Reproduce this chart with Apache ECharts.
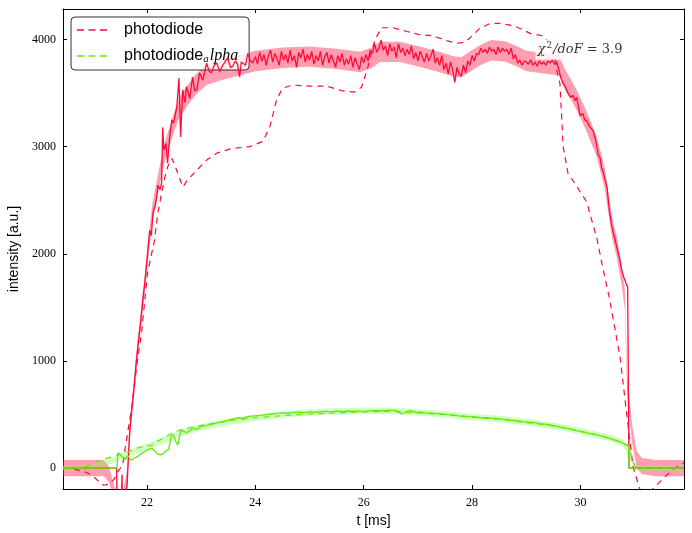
<!DOCTYPE html>
<html>
<head>
<meta charset="utf-8">
<script src="https://cdn.jsdelivr.net/npm/echarts@6/dist/echarts.min.js"></script>
<style>html,body{margin:0;padding:0;background:#fff}#c{width:692px;height:533px}</style>
</head>
<body>
<div id="c"></div>
<script>
// ---------- data ----------
const xTicks = [22, 24, 26, 28, 30];
const yTicks = [0, 1000, 2000, 3000, 4000];
const xRange = [20.45, 31.91];
const yRange = [-195, 4285];
const chiPos = [29.17, 3905];

// photodiode, measured (solid, noisy)
const redData = [
[20.45,0],[21.44,0],[21.45,-450],[21.50,-400],[21.53,-250],[21.54,-60],[21.55,-400],[21.60,-350],[21.63,-185],
[21.68,330],[21.72,560],[21.74,640],[21.77,800],[21.80,980],[21.83,1130],[21.87,1300],[21.90,1450],[21.93,1600],
[21.96,1730],[22.01,2000],[22.05,2220],[22.08,2170],[22.11,2380],[22.15,2450],[22.18,2530],[22.20,2640],[22.24,2600],
[22.27,2660],[22.29,3180],[22.31,2970],[22.35,3030],[22.38,2845],[22.42,3100],[22.46,3250],[22.49,3220],[22.55,3370],
[22.59,3640],[22.62,3090],[22.66,3530],[22.70,3410],[22.73,3560],[22.79,3450],[22.84,3650],[22.88,3520],[22.92,3530],
[22.97,3690],[23.03,3620],[23.10,3780],[23.15,3700],[23.19,3690],[23.24,3760],[23.29,3780],[23.34,3700],[23.40,3760],
[23.45,3800],[23.49,3830],[23.54,3740],[23.58,3750],[23.63,3800],[23.67,3770],[23.71,3650],[23.74,3790],[23.77,3808],
[23.82,3760],[23.86,3870],[23.91,3800],[23.95,3780],
[24.00,3840],[24.04,3770],[24.08,3880],[24.12,3800],[24.16,3860],[24.20,3760],[24.24,3850],[24.28,3900],[24.32,3790],
[24.36,3870],[24.40,3820],[24.44,3760],[24.48,3890],[24.52,3810],[24.56,3860],[24.60,3780],[24.64,3900],[24.68,3800],
[24.72,3850],[24.76,3740],[24.80,3880],[24.84,3830],[24.88,3910],[24.92,3790],[24.96,3860],[25.00,3810],[25.04,3890],
[25.08,3770],[25.12,3850],[25.16,3800],[25.20,3890],[25.24,3760],[25.28,3840],[25.32,3880],[25.36,3780],[25.40,3860],
[25.44,3800],[25.48,3740],[25.52,3850],[25.56,3790],[25.60,3870],[25.64,3760],[25.68,3820],[25.72,3770],[25.76,3850],
[25.80,3740],[25.84,3830],[25.88,3770],[25.92,3720],[25.96,3840],[26.00,3780],[26.04,3860],[26.08,3800],[26.12,3900],
[26.16,3870],[26.20,3960],[26.24,3880],[26.28,3920],[26.32,3995],[26.36,3900],[26.40,3940],[26.44,3850],[26.48,3960],
[26.52,3890],[26.56,3930],[26.60,3830],[26.64,3960],[26.68,3880],[26.72,3920],[26.76,3850],[26.80,3910],[26.84,3860],
[26.88,3940],[26.92,3820],[26.96,3880],[27.00,3800],[27.04,3890],[27.08,3840],[27.12,3790],[27.16,3870],[27.20,3800],
[27.24,3850],[27.28,3910],[27.32,3780],[27.36,3830],[27.40,3760],[27.44,3850],[27.48,3720],[27.52,3780],[27.56,3680],
[27.60,3790],[27.64,3720],[27.68,3600],[27.72,3740],[27.76,3680],[27.80,3660],[27.84,3760],[27.88,3690],[27.92,3800],
[27.96,3760],[28.00,3850],[28.04,3800],[28.08,3870],[28.12,3860],[28.16,3920],[28.20,3880],[28.24,3910],[28.28,3870],
[28.32,3930],[28.36,3890],[28.40,3910],[28.44,3860],[28.48,3930],[28.52,3880],[28.56,3920],[28.60,3890],[28.64,3910],
[28.68,3860],[28.72,3920],[28.76,3820],[28.80,3860],[28.84,3780],[28.88,3810],[28.92,3760],[28.96,3800],[29.00,3790],
[29.04,3770],[29.08,3810],[29.12,3760],[29.16,3790],[29.20,3750],[29.24,3800],[29.28,3770],[29.32,3790],[29.36,3760],
[29.40,3800],[29.44,3780],[29.48,3810],[29.52,3770],[29.56,3790],[29.60,3720],[29.64,3640],[29.67,3600],[29.72,3560],
[29.77,3500],[29.82,3460],[29.86,3480],[29.90,3430],[29.93,3460],[29.99,3290],[30.04,3310],[30.08,3250],[30.12,3240],
[30.17,3185],[30.23,3150],[30.28,3060],[30.33,2920],[30.36,2900],[30.39,2800],[30.41,2780],[30.44,2720],[30.49,2620],
[30.53,2420],[30.58,2250],[30.63,2150],[30.67,2060],[30.72,1960],[30.76,1850],[30.80,1780],[30.84,1725],[30.87,1690],
[30.89,1690],[30.895,0],[31.91,0]
];

// photodiode, reference (dashed)
const redDashed = [
[20.45,0],[20.63,-7],[20.85,-35],[20.98,-63],[21.10,-120],[21.20,-160],[21.30,-150],[21.40,-100],[21.46,-35],
[21.55,30],[21.63,290],[21.72,570],[21.83,1035],[21.90,1260],[21.96,1570],[22.01,1820],[22.10,2035],[22.14,2130],
[22.20,2380],[22.27,2565],[22.33,2715],[22.38,2810],[22.46,2890],[22.51,2830],[22.57,2750],[22.66,2625],[22.75,2690],
[22.92,2780],[23.10,2875],[23.29,2940],[23.58,2985],[23.90,3000],[24.14,3050],[24.27,3190],[24.39,3435],[24.50,3545],
[24.69,3575],[25.00,3565],[25.32,3565],[25.61,3520],[25.83,3510],[25.96,3555],[26.02,3650],[26.08,3750],[26.15,3900],
[26.21,4000],[26.33,4110],[26.54,4110],[26.80,4075],[27.03,4045],[27.27,4035],[27.53,3990],[27.72,3965],[27.86,3975],
[27.96,4015],[28.14,4105],[28.33,4150],[28.51,4150],[28.70,4135],[28.88,4105],[29.06,4060],[29.30,4035],[29.43,3960],
[29.52,3850],[29.56,3715],[29.62,3590],[29.65,3300],[29.68,3000],[29.77,2750],[29.93,2630],[30.12,2480],[30.17,2380],
[30.30,2150],[30.41,1875],[30.54,1570],[30.73,1035],[30.86,475],[30.97,10],[31.06,-140],[31.19,-350],[31.34,-190],
[31.56,-80],[31.74,0],[31.91,50]
];

// photodiode fit band: [t, centre, half-width]
const redFit = [
[20.45,0,75],[21.20,0,75],[21.30,-60,75],[21.40,-250,75],[21.50,-400,80],[21.58,-250,80],[21.63,-100,85],[21.68,330,85],
[21.77,800,85],[21.83,1130,85],[21.90,1450,85],[21.96,1730,85],[22.02,2030,90],[22.10,2380,90],[22.20,2640,90],
[22.30,2900,90],[22.40,3070,90],[22.50,3230,90],[22.60,3370,95],[22.75,3480,95],[22.90,3580,95],[23.10,3670,95],
[23.40,3720,95],[23.70,3760,95],[24.00,3800,95],[24.50,3830,95],[25.00,3840,95],[25.50,3820,95],[25.93,3790,95],
[26.15,3830,95],[26.30,3885,95],[26.66,3885,95],[27.03,3840,95],[27.40,3790,95],[27.65,3750,95],[27.80,3740,95],
[27.95,3790,95],[28.15,3855,95],[28.35,3900,95],[28.60,3890,95],[28.80,3850,95],[29.00,3800,95],[29.30,3780,95],
[29.60,3760,95],[29.72,3620,95],[29.86,3500,95],[29.93,3435,95],[30.10,3250,95],[30.30,3000,95],[30.45,2700,95],
[30.58,2250,95],[30.67,2060,95],[30.76,1800,95],[30.82,1570,95],[30.86,790,90],[30.95,330,85],[31.04,77,80],
[31.13,20,75],[31.40,0,75],[31.91,0,75]
];

// photodiode_alpha, measured (solid)
const greenData = [
[20.45,0],[21.45,0],[21.46,142],[21.50,128],[21.55,100],[21.59,78],[21.65,115],[21.70,75],[21.76,90],[21.83,110],
[21.90,135],[21.96,155],[22.03,175],[22.09,185],[22.14,160],[22.20,130],[22.27,125],[22.33,150],[22.40,175],[22.45,300],
[22.49,310],[22.53,250],[22.57,215],[22.62,340],[22.66,350],[22.73,330],[22.79,350],[22.86,370],[22.92,360],[22.98,385],
[23.05,395],[23.12,400],[23.20,410],[23.28,420],[23.36,430],[23.45,440],[23.52,450],[23.60,460],[23.68,470],[23.76,462],
[23.84,478],[23.92,485],[24.00,488],[24.10,493],[24.20,500],[24.30,505],[24.40,510],[24.50,515],[24.60,512],[24.70,518],
[24.80,522],[24.90,515],[25.00,525],[25.10,520],[25.20,528],[25.30,530],[25.40,524],[25.50,532],[25.60,526],[25.70,533],
[25.80,530],[25.90,535],[26.00,528],[26.10,534],[26.20,536],[26.30,533],[26.40,538],[26.50,540],[26.60,536],[26.70,505],
[26.80,528],[26.86,538],[26.95,520],[27.05,522],[27.15,516],[27.25,512],[27.35,508],[27.45,506],[27.55,500],[27.65,496],
[27.75,488],[27.85,484],[27.95,480],[28.05,478],[28.15,472],[28.25,470],[28.35,466],[28.45,462],[28.55,458],[28.65,452],
[28.75,446],[28.85,440],[28.95,434],[29.05,430],[29.15,424],[29.25,416],[29.35,410],[29.45,400],[29.55,392],[29.65,380],
[29.75,370],[29.85,360],[29.95,348],[30.05,336],[30.15,325],[30.25,318],[30.35,305],[30.45,290],[30.55,275],[30.65,260],
[30.75,240],[30.85,220],[30.89,210],[30.895,0],[31.91,0]
];

// photodiode_alpha, reference (dashed)
const greenDashed = [
[20.45,0],[20.80,5],[21.00,40],[21.15,75],[21.46,120],[21.65,150],[21.84,190],[22.09,215],[22.18,245],[22.48,330],
[22.60,355],[23.00,400],[23.50,440],[24.00,470],[24.50,490],[25.00,505],[25.50,515],[26.00,525],[26.50,530],[27.00,515],
[27.50,500],[28.00,475],[28.50,455],[29.00,425],[29.50,395],[30.00,345],[30.40,300],[30.70,250],[30.88,205],[31.00,20],
[31.10,0],[31.91,0]
];

// photodiode_alpha fit band: [t, centre, half-width]
const greenFit = [
[20.45,0,25],[21.00,10,25],[21.30,60,28],[21.60,130,30],[22.00,200,30],[22.30,260,30],[22.60,320,30],[23.00,380,30],
[23.50,430,30],[24.00,470,30],[24.50,500,30],[25.00,520,30],[25.50,530,30],[26.00,535,30],[26.50,535,30],[27.00,520,30],
[27.50,500,30],[28.00,478,30],[28.50,458,30],[29.00,430,30],[29.50,395,30],[30.00,345,30],[30.50,285,30],[30.78,235,30],
[30.92,100,28],[31.04,0,25],[31.91,0,25]
];

// ---------- chart ----------
const RED = '#ff0a3a';
const GREEN = '#62ea0c';
const chart = echarts.init(document.getElementById('c'), null, {renderer: 'canvas'});

function band(fit, fill, z) {
  return {
    type: 'custom', z: z, silent: true, data: [[25, 2000]],
    renderItem: function (params, api) {
      const up = fit.map(p => api.coord([p[0], p[1] + p[2]]));
      const lo = fit.map(p => api.coord([p[0], p[1] - p[2]])).reverse();
      const cs = params.coordSys;
      return {
        type: 'polygon', shape: {points: up.concat(lo)}, style: {fill: fill},
        clipPath: {type: 'rect', shape: {x: cs.x, y: cs.y, width: cs.width, height: cs.height}}
      };
    }
  };
}

const serif = 'Liberation Serif';
const sans = 'Liberation Sans';
const axisCommon = {
  type: 'value', splitLine: {show: false},
  axisLine: {show: true, onZero: false, lineStyle: {color: '#000', width: 1}},
};
const dashIcon = 'path://M0,0h7v1h-7zM11.5,0h7v1h-7zM23,0h7v1h-7z';

chart.setOption({
  animation: false,
  backgroundColor: '#fff',
  grid: {left: 63, right: 8, top: 9, bottom: 44, containLabel: false, outerBoundsMode: 'none'},
  xAxis: [
    Object.assign({}, axisCommon, {
      min: xRange[0], max: xRange[1], position: 'bottom',
      axisTick: {inside: true, length: 4, customValues: xTicks, lineStyle: {color: '#000'}},
      axisLabel: {customValues: xTicks, color: '#000', fontFamily: serif, fontSize: 12, margin: 8,
                  formatter: v => String(v)},
      name: 't [ms]', nameLocation: 'middle', nameGap: 19,
      nameTextStyle: {fontFamily: sans, fontSize: 14, color: '#000'}
    }),
    Object.assign({}, axisCommon, {
      min: xRange[0], max: xRange[1], position: 'top',
      axisTick: {inside: true, length: 4, customValues: xTicks, lineStyle: {color: '#000'}},
      axisLabel: {show: false}
    })
  ],
  yAxis: [
    Object.assign({}, axisCommon, {
      min: yRange[0], max: yRange[1], position: 'left',
      axisTick: {inside: true, length: 4, customValues: yTicks, lineStyle: {color: '#000'}},
      axisLabel: {customValues: yTicks, color: '#000', fontFamily: serif, fontSize: 12, margin: 7,
                  formatter: v => String(v)},
      name: 'intensity [a.u.]', nameLocation: 'middle', nameGap: 41, nameRotate: 90,
      nameTextStyle: {fontFamily: sans, fontSize: 14, color: '#000'}
    }),
    Object.assign({}, axisCommon, {
      min: yRange[0], max: yRange[1], position: 'right',
      axisTick: {inside: true, length: 4, customValues: yTicks, lineStyle: {color: '#000'}},
      axisLabel: {show: false}
    })
  ],
  legend: {
    data: [{name: 'photodiode', icon: dashIcon}, {name: 'photodiode_alpha', icon: dashIcon}],
    orient: 'vertical', left: 71, top: 17,
    itemWidth: 30, itemHeight: 1.3, itemGap: 8, symbolKeepAspect: false,
    padding: [4, 11, 5, 6],
    backgroundColor: 'rgba(255,255,255,0.8)',
    borderColor: '#333', borderWidth: 1, borderRadius: 4,
    textStyle: {
      color: '#000', fontFamily: sans, fontSize: 16, lineHeight: 18,
      rich: {
        n: {fontFamily: sans, fontSize: 16, color: '#000', padding: [0, 0, 0, 12]},
        sub: {fontFamily: serif, fontStyle: 'italic', fontSize: 11, color: '#000', padding: [7, 0, 0, 0]},
        it: {fontFamily: serif, fontStyle: 'italic', fontSize: 16, color: '#000', padding: [0, 0, 0, 1]}
      }
    },
    formatter: function (name) {
      return name === 'photodiode_alpha' ? '{n|photodiode}{sub|a}{it|lpha}' : '{n|photodiode}';
    }
  },
  series: [
    band(redFit, 'rgba(255,40,80,0.45)', 1),
    band(greenFit, 'rgba(130,255,70,0.35)', 1),
    {name: 'photodiode', type: 'line', z: 3, data: redDashed, symbol: 'none', showSymbol: false,
     lineStyle: {color: RED, width: 1.2, type: [6, 5]}, itemStyle: {color: RED}},
    {name: 'photodiode data', type: 'line', z: 4, data: redData, symbol: 'none', showSymbol: false,
     lineStyle: {color: RED, width: 1.3}, itemStyle: {color: RED}},
    {name: 'photodiode_alpha', type: 'line', z: 5, data: greenDashed, symbol: 'none', showSymbol: false,
     lineStyle: {color: GREEN, width: 1.2, type: [6, 5]}, itemStyle: {color: GREEN}},
    {name: 'photodiode_alpha data', type: 'line', z: 6, data: greenData, symbol: 'none', showSymbol: false,
     lineStyle: {color: GREEN, width: 1.3}, itemStyle: {color: GREEN}},
    {name: 'chi', type: 'scatter', z: 10, symbolSize: 0, silent: true, data: [chiPos],
     label: {
       show: true, position: [0, 0], align: 'left', verticalAlign: 'middle',
       backgroundColor: '#fff', padding: [1, 2, 1, 2],
       formatter: '{a|χ}{s|2}{a|/doF}{b| = 3.9}',
       rich: {
         a: {fontFamily: 'DejaVu Serif', fontStyle: 'italic', fontSize: 13, color: '#000'},
         s: {fontFamily: 'DejaVu Serif', fontSize: 9, color: '#000', padding: [0, 1, 9, 1]},
         b: {fontFamily: 'DejaVu Serif', fontSize: 13, color: '#000'}
       }
     }}
  ]
});
</script>
</body>
</html>
